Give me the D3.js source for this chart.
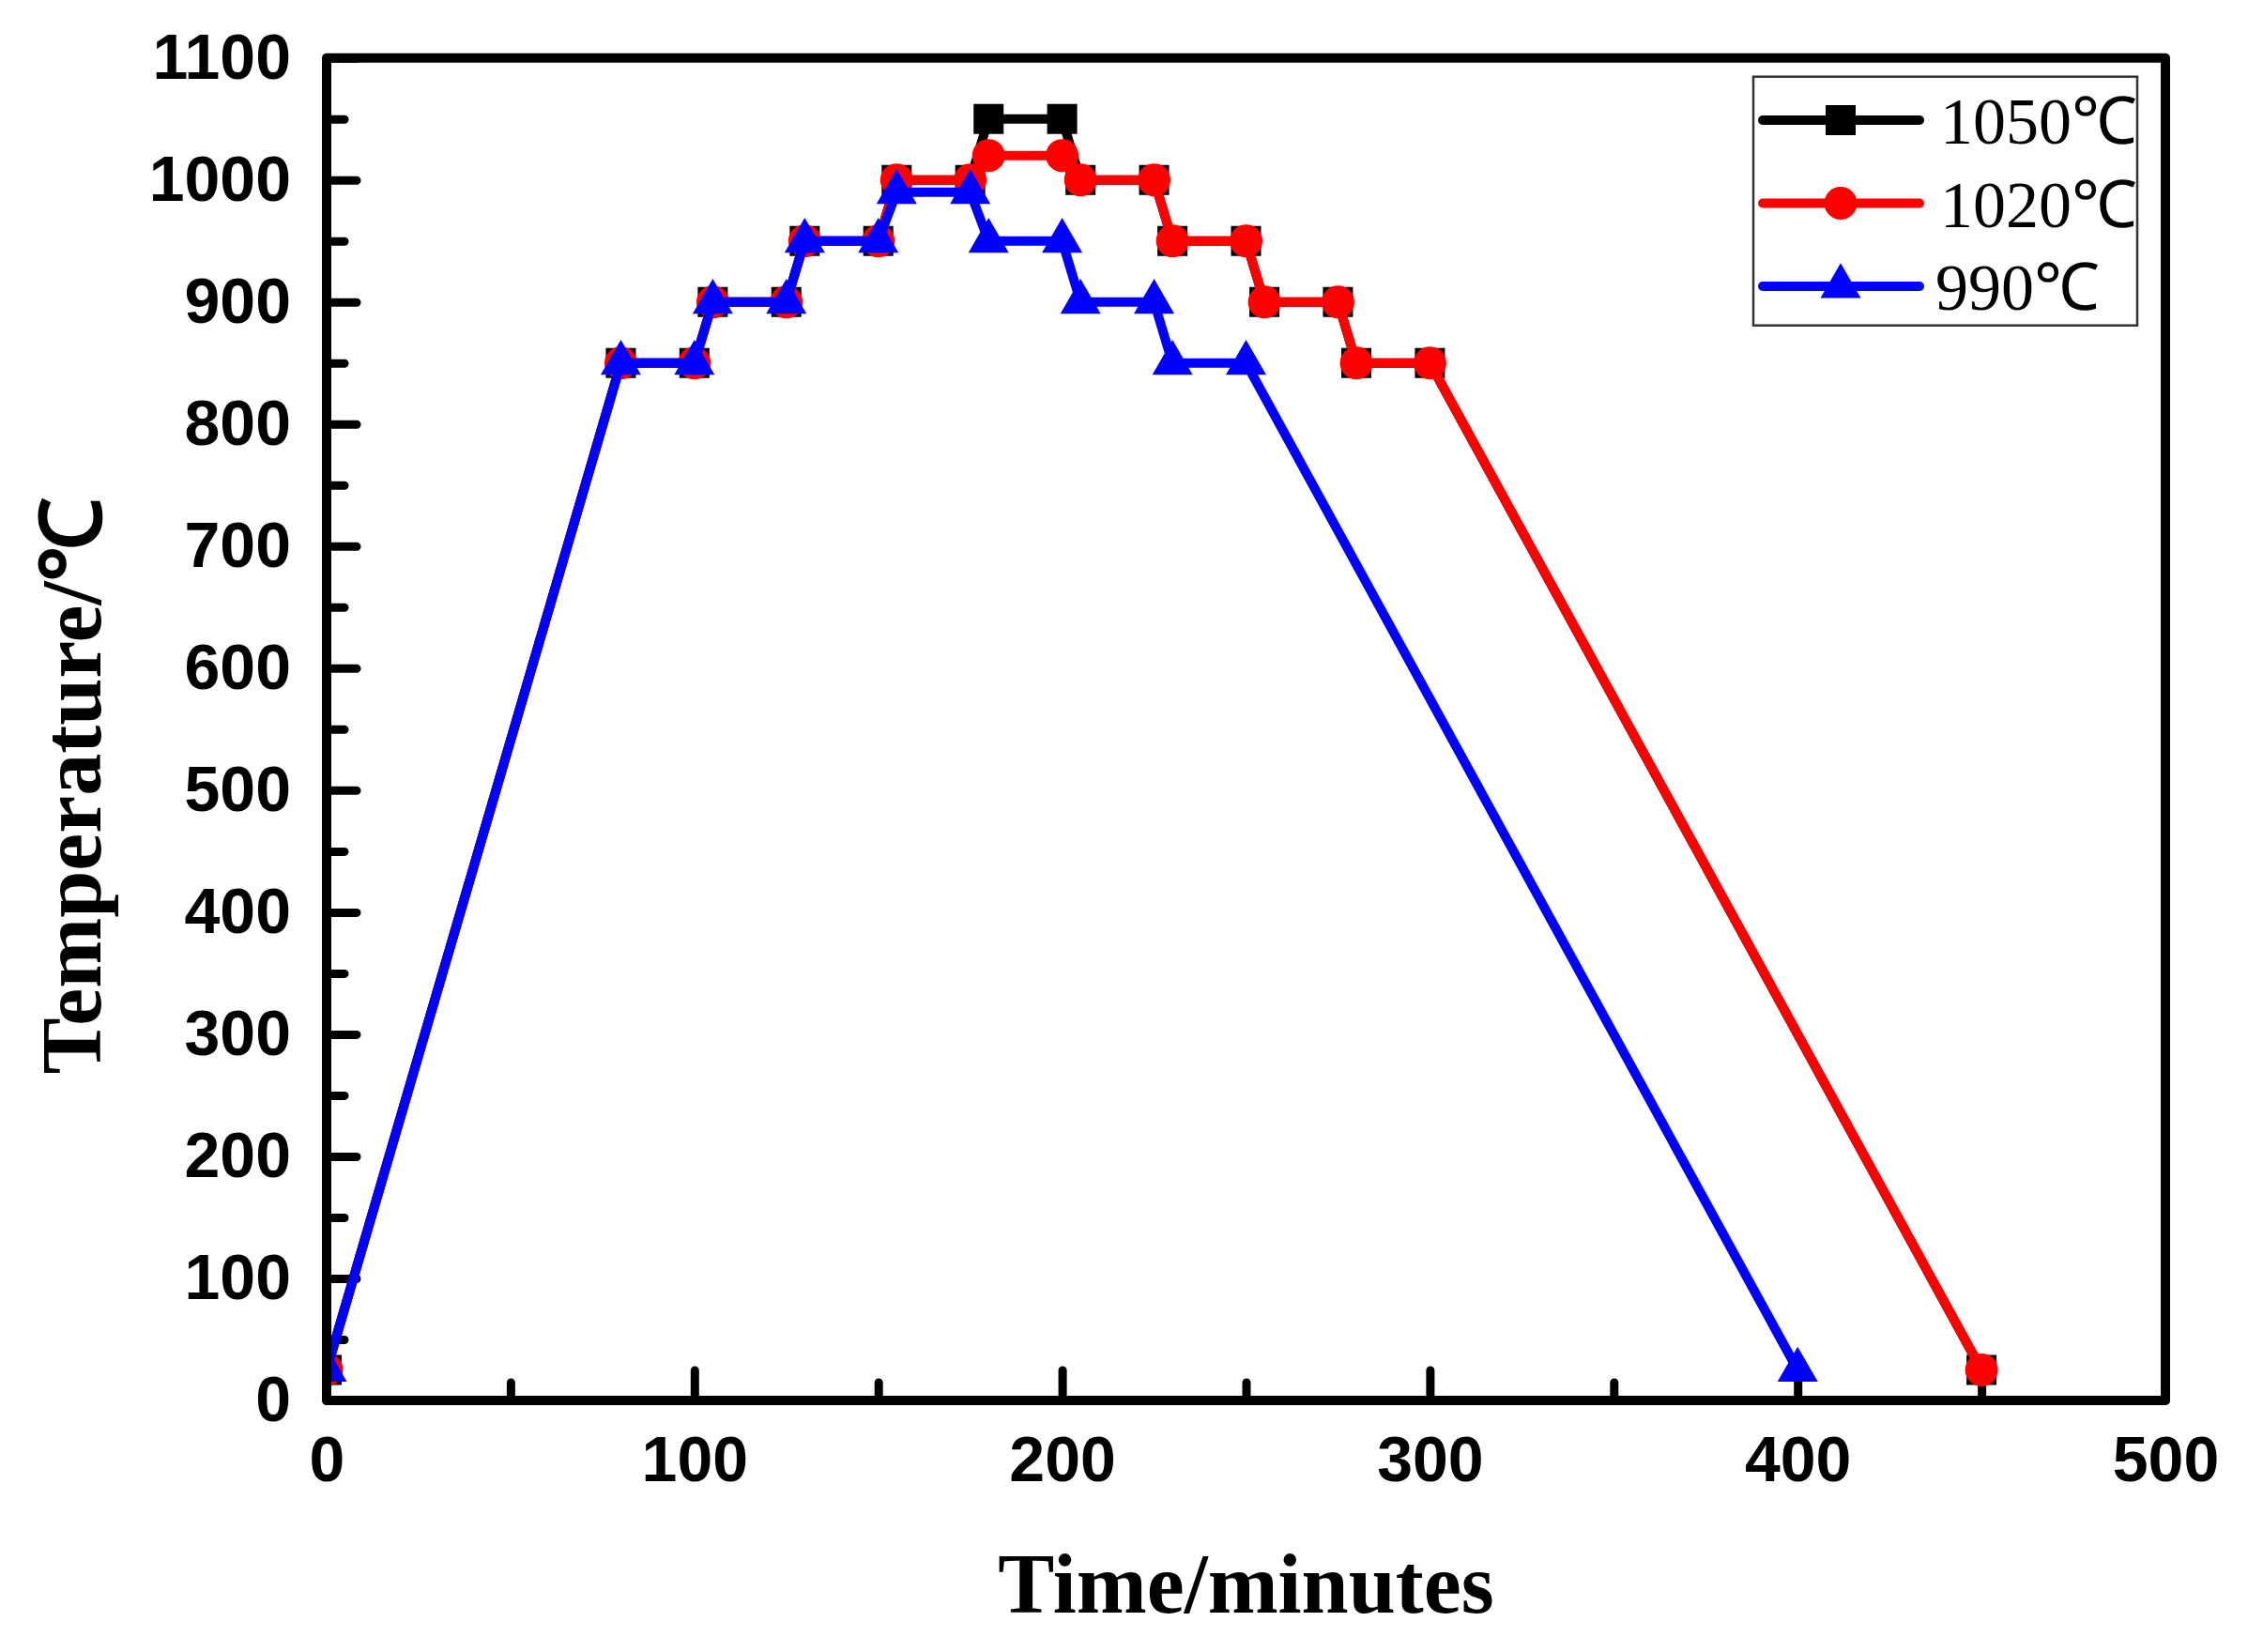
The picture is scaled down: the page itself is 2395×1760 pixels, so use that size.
<!DOCTYPE html>
<html>
<head>
<meta charset="utf-8">
<script src="https://cdn.jsdelivr.net/npm/d3@7"></script>
<style>
  body { margin: 0; background: #fff; }
  svg { display: block; }
</style>
</head>
<body>
<script>
// series data: time (minutes) and temperature (°C)
var names = ["1050℃", "1020℃", "990℃"];
var colors = ["#000000", "#ff0000", "#0000ff"];
var symbols = ["square", "circle", "triangle"];

var time1050 = [0, 80, 100, 105, 125, 130, 150, 155, 175, 180, 200, 205, 225, 230, 250, 255, 275, 280, 300, 450];
var temp1050 = [25, 850, 850, 900, 900, 950, 950, 1000, 1000, 1050, 1050, 1000, 1000, 950, 950, 900, 900, 850, 850, 25];

var time1020 = [0, 80, 100, 105, 125, 130, 150, 155, 175, 180, 200, 205, 225, 230, 250, 255, 275, 280, 300, 450];
var temp1020 = [25, 850, 850, 900, 900, 950, 950, 1000, 1000, 1020, 1020, 1000, 1000, 950, 950, 900, 900, 850, 850, 25];

var time990 = [0, 80, 100, 105, 125, 130, 150, 155, 175, 180, 200, 205, 225, 230, 250, 400];
var temp990 = [25, 850, 850, 900, 900, 950, 950, 990, 990, 950, 950, 900, 900, 850, 850, 25];

var xMajor = [0, 100, 200, 300, 400, 500];
var xMinor = [50, 150, 250, 350, 450];
var yMajor = [0, 100, 200, 300, 400, 500, 600, 700, 800, 900, 1000, 1100];
var yMinor = [50, 150, 250, 350, 450, 550, 650, 750, 850, 950, 1050];

var W = 2395, H = 1760;
var margin = { left: 348, right: 2307, top: 61.7, bottom: 1492 };

var svg = d3.select("body").append("svg")
    .attr("width", W)
    .attr("height", H);

var x = d3.scaleLinear().domain([0, 500]).range([margin.left, margin.right]);
var y = d3.scaleLinear().domain([0, 1100]).range([margin.bottom, margin.top]);

svg.append("clipPath").attr("id", "plotclip")
  .append("rect")
    .attr("x", margin.left + 5).attr("y", margin.top + 5)
    .attr("width", margin.right - margin.left - 10).attr("height", margin.bottom - margin.top - 10);

// ticks - inward
function styleAxis(g) {
  g.select(".domain").remove();
  g.selectAll(".tick line").attr("stroke", "#000").attr("stroke-width", 9).attr("stroke-linecap", "round");
  g.selectAll(".tick text")
    .attr("fill", "#000")
    .style("font-family", "'Liberation Sans', Arial, sans-serif")
    .style("font-weight", "bold")
    .style("font-size", "68px");
}

svg.append("g")
    .attr("transform", "translate(0," + margin.bottom + ")")
    .call(d3.axisBottom(x).tickValues(xMajor).tickSize(-32).tickPadding(38).tickFormat(d3.format("d")))
    .call(styleAxis);

svg.append("g")
    .attr("transform", "translate(0," + margin.bottom + ")")
    .call(d3.axisBottom(x).tickValues(xMinor).tickSize(-19).tickFormat(""))
    .call(styleAxis);

svg.append("g")
    .attr("transform", "translate(" + margin.left + ",0)")
    .call(d3.axisLeft(y).tickValues(yMajor).tickSize(-32).tickPadding(38).tickFormat(d3.format("d")))
    .call(styleAxis);

svg.append("g")
    .attr("transform", "translate(" + margin.left + ",0)")
    .call(d3.axisLeft(y).tickValues(yMinor).tickSize(-19).tickFormat(""))
    .call(styleAxis);

// frame
svg.append("rect")
    .attr("x", margin.left).attr("y", margin.top)
    .attr("width", margin.right - margin.left).attr("height", margin.bottom - margin.top)
    .attr("fill", "none")
    .attr("stroke", "#000")
    .attr("stroke-width", 10)
    .attr("stroke-linejoin", "round");

// series
var series = [
  { name: names[0], color: colors[0], symbol: symbols[0], t: time1050, v: temp1050 },
  { name: names[1], color: colors[1], symbol: symbols[1], t: time1020, v: temp1020 },
  { name: names[2], color: colors[2], symbol: symbols[2], t: time990, v: temp990 }
];

var line = d3.line()
    .x(function(d) { return x(d[0]); })
    .y(function(d) { return y(d[1]); });

function symbolPath(type) {
  if (type == "square") return d3.symbol().type(d3.symbolSquare).size(32 * 32)();
  if (type == "circle") return d3.symbol().type(d3.symbolCircle).size(Math.PI * 17.5 * 17.5)();
  // equilateral triangle, side 43
  return d3.symbol().type(d3.symbolTriangle).size(43 * 43 * Math.sqrt(3) / 4)();
}

var plot = svg.append("g").attr("clip-path", "url(#plotclip)");

series.forEach(function(s) {
  var pts = s.t.map(function(t, i) { return [t, s.v[i]]; });
  plot.append("path")
      .datum(pts)
      .attr("fill", "none")
      .attr("stroke", s.color)
      .attr("stroke-width", 10)
      .attr("stroke-linejoin", "round")
      .attr("d", line);
  plot.selectAll(null)
      .data(pts)
    .enter().append("path")
      .attr("transform", function(d) { return "translate(" + x(d[0]) + "," + y(d[1]) + ")"; })
      .attr("fill", s.color)
      .attr("d", symbolPath(s.symbol));
});

// legend
var leg = svg.append("g");
leg.append("rect")
    .attr("x", 1868).attr("y", 81.7)
    .attr("width", 409).attr("height", 265)
    .attr("fill", "#fff")
    .attr("stroke", "#333")
    .attr("stroke-width", 2.5);

series.forEach(function(s, i) {
  var ly = 128 + i * 88.5;
  leg.append("line")
      .attr("x1", 1878).attr("x2", 2045)
      .attr("y1", ly).attr("y2", ly)
      .attr("stroke", s.color)
      .attr("stroke-width", 10)
      .attr("stroke-linecap", "round");
  leg.append("path")
      .attr("transform", "translate(1961," + ly + ")")
      .attr("fill", s.color)
      .attr("d", symbolPath(s.symbol));
  leg.append("text")
      .attr("x", i == 2 ? 2062 : 2067)
      .attr("y", ly + 25)
      .style("font-family", "'Liberation Serif', 'Times New Roman', serif")
      .style("font-size", "70px")
      .text(s.name);
});

// axis titles
svg.append("text")
    .attr("x", (margin.left + margin.right) / 2)
    .attr("y", 1718)
    .attr("text-anchor", "middle")
    .style("font-family", "'Liberation Serif', 'Times New Roman', serif")
    .style("font-weight", "bold")
    .style("font-size", "90px")
    .text("Time/minutes");

svg.append("text")
    .attr("transform", "translate(107,837) rotate(-90)")
    .attr("text-anchor", "middle")
    .style("font-family", "'Liberation Serif', 'Times New Roman', serif")
    .style("font-weight", "bold")
    .style("font-size", "90px")
    .text("Temperature/℃");
</script>
</body>
</html>
